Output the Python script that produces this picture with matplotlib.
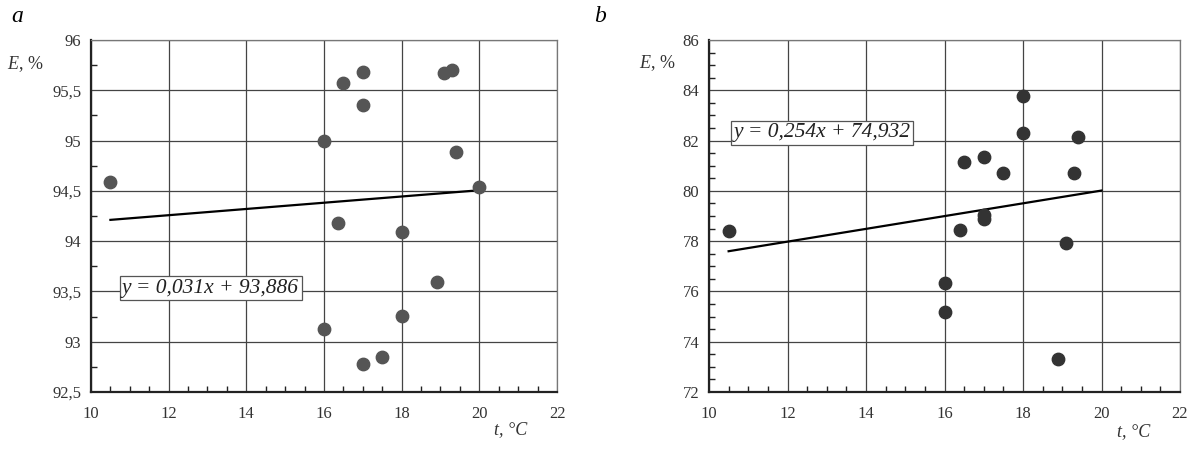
import matplotlib
matplotlib.use("Agg")
import matplotlib.pyplot as plt
from matplotlib.ticker import MultipleLocator, FuncFormatter
import numpy as np

plt.rcParams['font.family'] = ['Liberation Serif', 'DejaVu Serif']
plt.rcParams['mathtext.fontset'] = 'custom'
plt.rcParams['mathtext.rm'] = 'Liberation Serif'
plt.rcParams['mathtext.it'] = 'Liberation Serif:italic'

# Panel a data
t_a = [10.5, 16.5, 17.0, 17.0, 16.0, 19.1, 19.3, 19.4, 20.0, 16.35, 18.0, 18.9, 18.0, 16.0, 17.5, 17.0]
E_a = [94.59, 95.57, 95.68, 95.35, 95.0, 95.67, 95.70, 94.89, 94.54, 94.18, 94.09, 93.59, 93.26, 93.13, 92.85, 92.78]
fit_a = (0.031, 93.886)
eq_a = "y = 0,031x + 93,886"

# Panel b data
t_b = [10.5, 18.0, 18.0, 19.4, 16.5, 17.0, 17.5, 19.3, 17.0, 17.0, 16.4, 19.1, 16.0, 16.0, 18.9]
E_b = [78.40, 83.76, 82.32, 82.15, 81.15, 81.35, 80.70, 80.72, 79.05, 78.90, 78.46, 77.93, 76.35, 75.17, 73.31]
fit_b = (0.254, 74.932)
eq_b = "y = 0,254x + 74,932"

fit_range = [10.5, 20.0]

fig = plt.figure(figsize=(11.92, 4.51), dpi=100)

def fmt(v, pos):
    s = ('%g' % v)
    return s.replace('.', ',')

def make_panel(rect, t, E, fit, eq, ylim, ymajor, yminor, color, eqpos, letter, letterpos, elabpos, tlabpos):
    ax = fig.add_axes(rect)
    ax.set_xlim(10, 22)
    ax.set_ylim(*ylim)
    ax.xaxis.set_major_locator(MultipleLocator(2))
    ax.xaxis.set_minor_locator(MultipleLocator(0.5))
    ax.yaxis.set_major_locator(MultipleLocator(ymajor))
    ax.yaxis.set_minor_locator(MultipleLocator(yminor))
    ax.yaxis.set_major_formatter(FuncFormatter(fmt))
    ax.grid(True, which='major', color='#444444', linewidth=0.9)
    ax.tick_params(which='both', direction='in', top=False, right=False,
                   labelsize=12, labelcolor='#333333', color='#222222')
    ax.tick_params(axis='x', which='major', length=0, pad=10)
    ax.tick_params(axis='y', which='major', length=0, pad=7)
    ax.tick_params(which='minor', length=4, width=1.0)
    for side, sp in ax.spines.items():
        if side in ('left', 'bottom'):
            sp.set_color('#222222'); sp.set_linewidth(1.6)
        else:
            sp.set_color('#777777'); sp.set_linewidth(0.9)
    xs = np.array(fit_range)
    ax.plot(xs, fit[0] * xs + fit[1], color='black', linewidth=1.6, zorder=3)
    ax.scatter(t, E, s=80, color=color, edgecolors=color, zorder=4)
    ax.text(eqpos[0], eqpos[1], eq, fontsize=15.5, style='italic', color='#222222',
            ha='center', va='center', zorder=5,
            bbox=dict(boxstyle='square,pad=0.12', facecolor='white', edgecolor='#555555', linewidth=0.9))
    fig.text(letterpos[0], letterpos[1], letter, fontsize=17, style='italic', ha='left', va='center')
    fig.text(elabpos[0], elabpos[1], r"$\mathit{E}$, %", fontsize=13, color='#333333', ha='left', va='center')
    fig.text(tlabpos[0], tlabpos[1], "t, \u00b0C", fontsize=13, style='italic', color='#333333',
             ha='left', va='center')
    return ax

make_panel([91/1192, 59/451, 466/1192, 352/451], t_a, E_a, fit_a, eq_a, (92.5, 96), 0.5, 0.25,
           '#555555', (13.08, 93.53), 'a', (11/1192, 1 - 16/451), (7/1192, 1 - 64/451),
           (494/1192, 1 - 430/451))
make_panel([709/1192, 59/451, 471/1192, 352/451], t_b, E_b, fit_b, eq_b, (72, 86), 2, 0.5,
           '#333333', (12.88, 82.31), 'b', (594/1192, 1 - 16/451), (639/1192, 1 - 63/451),
           (1117/1192, 1 - 432/451))

fig.savefig("out.png", dpi=100)
